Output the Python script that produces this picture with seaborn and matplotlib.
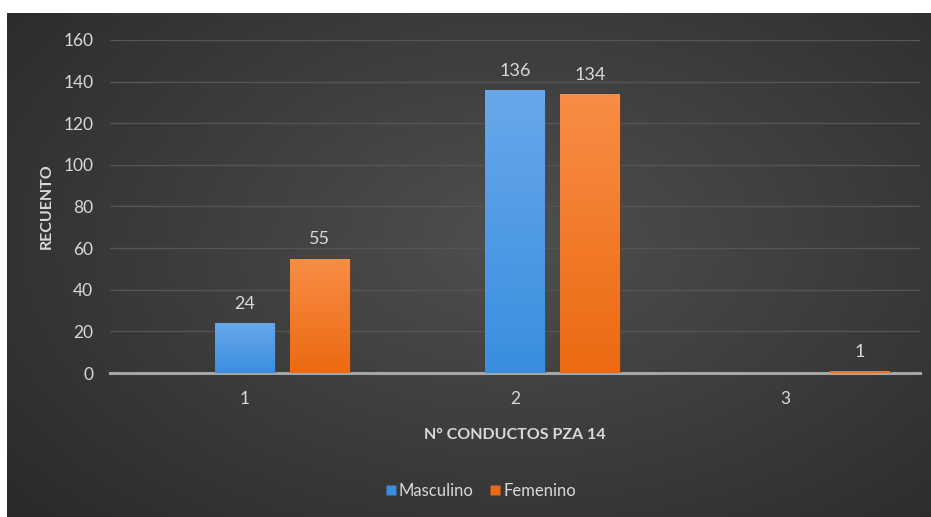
import numpy as np
import pandas as pd
import matplotlib
matplotlib.use("Agg")
import matplotlib.pyplot as plt
from matplotlib.lines import Line2D
import seaborn as sns

# Counts of canal number (tooth 14) by sex
conductos = ["1", "2", "3"]
masculino = [24, 136, None]
femenino = [55, 134, 1]
series = ["", "Masculino", "Femenino"]   # first slot is an empty series
y_ticks = [0, 20, 40, 60, 80, 100, 120, 140, 160]

rows = []
for c, m, f in zip(conductos, masculino, femenino):
    if m is not None:
        rows.append({"conductos": c, "serie": "Masculino", "recuento": m})
    if f is not None:
        rows.append({"conductos": c, "serie": "Femenino", "recuento": f})
df = pd.DataFrame(rows)

sns.set_theme(style="dark")
plt.rcParams["font.family"] = ["Lato", "DejaVu Sans"]

TEXT = "#d9d9d9"
BLUE_TOP, BLUE_BOT = "#67a8ea", "#3a8ee0"
ORANGE_TOP, ORANGE_BOT = "#f88d45", "#ec6a12"

fig = plt.figure(figsize=(9.31, 5.17), dpi=100)
fig.patch.set_facecolor("white")

# dark radial background panel
bg = fig.add_axes([7 / 931, 0, 1 - 7 / 931, 1 - 13 / 517], zorder=-5)
yy, xx = np.mgrid[0:1:300j, 0:1:500j]
r = np.sqrt(((xx - 0.55) / 0.75) ** 2 + ((yy - 0.45) / 0.85) ** 2)
shade = np.clip(1 - r, 0, 1)
low, high = np.array([0.16, 0.16, 0.16]), np.array([0.31, 0.31, 0.31])
img = low + (high - low) * shade[..., None]
bg.imshow(img, extent=[0, 1, 0, 1], aspect="auto", origin="upper")
bg.set_axis_off()

ax = fig.add_axes([110 / 931, 1 - 373 / 517, 810 / 931, 333 / 517])
ax.set_facecolor("none")

palette = {"": "#000000", "Masculino": BLUE_BOT, "Femenino": ORANGE_BOT}
sns.barplot(data=df, x="conductos", y="recuento", hue="serie",
            order=conductos, hue_order=series, palette=palette,
            width=0.833, gap=0.2, ax=ax, legend=False, zorder=3,
            err_kws={"linewidth": 0})

# vertical gradient fill on every bar
grad = np.linspace(0, 1, 64)[:, None]
for patch in list(ax.patches):
    fc = patch.get_facecolor()
    x0, y0 = patch.get_x(), patch.get_y()
    w, h = patch.get_width(), patch.get_height()
    if h <= 0 or np.isnan(h):
        continue
    if fc[2] > fc[0]:
        top, bot = BLUE_TOP, BLUE_BOT
    else:
        top, bot = ORANGE_TOP, ORANGE_BOT
    c_top = np.array(matplotlib.colors.to_rgb(top))
    c_bot = np.array(matplotlib.colors.to_rgb(bot))
    colors = c_top + (c_bot - c_top) * grad[..., None]
    im = ax.imshow(np.repeat(colors, 2, axis=1), extent=[x0, x0 + w, y0, y0 + h],
                   aspect="auto", origin="upper", zorder=4)
    im.set_clip_path(patch)
    patch.set_edgecolor((0, 0, 0, 0.25))
    patch.set_linewidth(0.8)

for cont in ax.containers:
    ax.bar_label(cont, fmt="%g", padding=8, color=TEXT, fontsize=13, zorder=6)

ax.set_xlim(-0.5, 2.5)
ax.set_ylim(0, 160)
ax.set_yticks(y_ticks)
ax.grid(axis="y", color="#555555", linewidth=1.0, zorder=0)
ax.grid(axis="x", visible=False)
for s in ["top", "right", "left"]:
    ax.spines[s].set_visible(False)
ax.spines["bottom"].set_color("#a6a6a6")
ax.spines["bottom"].set_linewidth(2.2)
ax.spines["bottom"].set_zorder(2)
ax.tick_params(axis="y", colors=TEXT, labelsize=12.5, length=0, pad=12)
ax.tick_params(axis="x", colors=TEXT, labelsize=12.5, length=0, pad=13)
ax.set_ylabel("RECUENTO", color=TEXT, fontsize=11.5, fontweight="bold", labelpad=7)
ax.set_xlabel("N° CONDUCTOS PZA 14", color=TEXT, fontsize=11.5,
              fontweight="bold", labelpad=15)

handles = [
    Line2D([], [], marker="s", linestyle="none", markersize=7.5,
           markerfacecolor=BLUE_BOT, markeredgecolor="none", label="Masculino"),
    Line2D([], [], marker="s", linestyle="none", markersize=7.5,
           markerfacecolor=ORANGE_BOT, markeredgecolor="none", label="Femenino"),
]
leg = fig.legend(handles=handles, loc="center", bbox_to_anchor=(481 / 931, 1 - 491 / 517),
                 ncol=2, frameon=False, fontsize=12, handlelength=0.6,
                 handletextpad=0.2, columnspacing=1.0)
for t in leg.get_texts():
    t.set_color(TEXT)

fig.savefig("out.png", dpi=100, facecolor=fig.get_facecolor())
